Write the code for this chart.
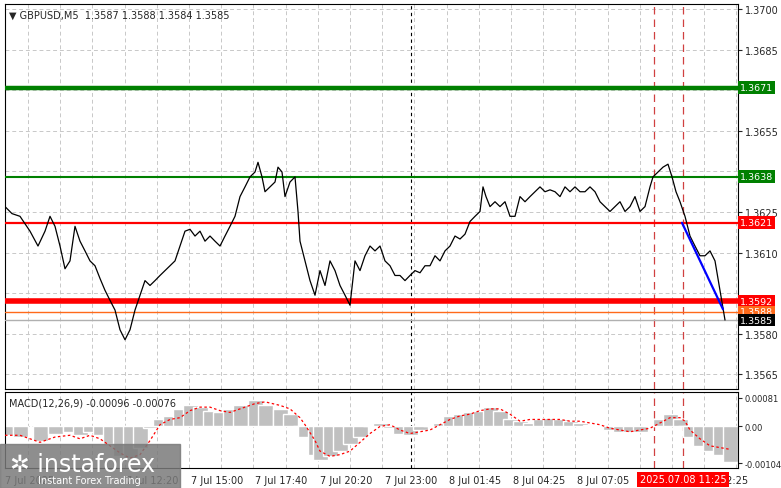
import numpy as np, pandas as pd, seaborn as sns, matplotlib
matplotlib.use("Agg")
import matplotlib.pyplot as plt
from matplotlib.patches import Rectangle

px_x = [5,12,20,30,38,45,50,55,60,65,70,75,80,85,90,95,100,105,110,115,120,125,130,135,140,145,150,155,160,165,170,175,180,185,190,195,200,205,210,215,220,225,230,235,240,245,250,255,258,262,265,270,275,278,282,285,290,295,298,300,305,310,315,320,325,330,335,340,345,350,355,360,365,370,375,380,385,390,395,400,405,410,415,420,425,430,435,440,445,450,455,460,465,470,475,480,483,486,490,495,500,505,510,515,520,525,530,535,540,545,550,555,560,565,570,575,580,585,590,595,600,605,610,615,620,625,630,635,640,645,650,653,658,663,668,672,676,680,685,690,695,700,705,710,715,720,725]
px_y = [205,212,215,230,245,230,215,225,245,268,260,225,240,250,260,265,278,290,300,310,330,340,330,310,295,280,285,280,275,270,265,260,245,230,228,235,230,240,235,240,245,235,225,215,195,185,175,170,160,175,190,185,180,165,170,195,180,175,210,240,260,280,295,270,285,260,270,285,295,305,260,270,255,245,250,245,260,265,275,275,280,275,270,272,265,265,255,260,250,245,235,238,233,220,215,210,185,195,205,200,205,200,215,215,195,200,195,190,185,190,188,190,195,185,190,185,190,190,185,190,200,205,210,205,200,210,205,195,210,205,185,175,170,165,162,175,190,200,215,235,245,255,255,250,260,290,320]
price = [round(1.3700 - (y - 5) * 0.0000365, 5) for y in px_y]

m_x = [5,20,40,55,70,80,90,100,110,120,130,140,150,160,170,180,190,200,210,220,230,240,255,265,280,290,300,305,315,320,330,340,350,360,370,380,390,400,410,420,430,440,450,460,470,480,490,500,510,520,530,540,550,560,570,580,590,600,610,620,630,640,650,660,670,680,685,690,700,710,720,730]
macd = [-25,-30,-40,-20,-15,-25,-15,-25,-50,-85,-90,-60,-5,20,30,50,60,55,45,40,50,60,75,60,50,35,0,-30,-80,-95,-85,-70,-50,-30,5,10,-5,-20,-25,-10,0,10,30,35,40,45,55,45,20,15,10,20,25,20,15,10,5,5,-10,-15,-15,-15,0,20,35,20,0,-30,-55,-70,-80,-100]
signal = [-25,-25,-45,-30,-25,-35,-25,-35,-55,-75,-90,-80,-40,5,20,25,45,55,55,45,40,50,65,70,60,50,25,5,-40,-70,-85,-80,-70,-45,-20,0,5,-10,-20,-15,-10,5,20,30,35,45,50,50,35,15,20,20,20,20,15,15,10,5,-5,-10,-15,-10,-5,10,25,25,15,-10,-35,-55,-60,-65]

levels = [1.3671, 1.3638, 1.3621, 1.3592, 1.3588, 1.3585]
level_colors = ["#008000", "#008000", "#ff0000", "#ff0000", "#ff6a1a", "#b0b0b0"]
level_widths = [3.2, 1.5, 1.6, 4.0, 1.0, 1.0]
label_bg = ["#008000", "#008000", "#ff0000", "#ff0000", "#ff6a1a", "#000000"]
grid_ticks = [1.3700,1.3685,1.3670,1.3655,1.3640,1.3625,1.3610,1.3595,1.3580,1.3565]
price_ticks = [1.3700,1.3685,1.3655,1.3625,1.3610,1.3580,1.3565]
xtick_pos = [30,152,217,281,346,411,475,539,603,735]
xtick_lbl = ["7 Jul 2025","7 Jul 12:20","7 Jul 15:00","7 Jul 17:40","7 Jul 20:20","7 Jul 23:00","8 Jul 01:45","8 Jul 04:25","8 Jul 07:05","12:25"]

sns.set_style("white")
plt.rcParams["font.family"] = ["DejaVu Sans"]
W, H = 781, 489
fig = plt.figure(figsize=(7.81, 4.89), dpi=100)
L, R = 5, 738
ax = fig.add_axes([L/W, 1-390/H, (R-L)/W, (390-5)/H])
ax2 = fig.add_axes([L/W, 1-469/H, (R-L)/W, (469-393)/H])
ylo = 1.3700 - (390-5)*0.0000365
for a in (ax, ax2):
    a.set_xlim(L, R)
    for s in a.spines.values():
        s.set_color("black"); s.set_linewidth(0.8)
    for gx in np.arange(28, R, 32.2):
        a.axvline(gx, color="#c8c8c8", ls=(0,(4,3)), lw=0.7, zorder=0)
ax.set_ylim(ylo, 1.3702)
for p in grid_ticks:
    ax.axhline(p, color="#c8c8c8", ls=(0,(4,3)), lw=0.7, zorder=0)

df = pd.DataFrame({"x": px_x, "p": price})
sns.lineplot(data=df, x="x", y="p", ax=ax, color="black", lw=0.9, zorder=5)
for lv, c, w in zip(levels, level_colors, level_widths):
    ax.axhline(lv, color=c, lw=w, zorder=3)
ax.plot([682, 723], [1.3621, 1.3589], color="#0000ff", lw=1.6, zorder=6)
for a in (ax, ax2):
    a.axvline(411, color="black", ls=(0,(3,3)), lw=0.8)
    a.axvline(654, color="#d04040", ls=(0,(6,4)), lw=0.9)
    a.axvline(683, color="#d04040", ls=(0,(6,4)), lw=0.9)

ax.set_xticks([]); ax.set_ylabel(""); ax.set_xlabel("")
ax.yaxis.tick_right()
ax.set_yticks(price_ticks)
ax.set_yticklabels([f"{p:.4f}" for p in price_ticks], fontsize=7)
ax.tick_params(axis="y", length=3, pad=2)
for lv, bg in zip(levels, label_bg):
    ax.text(1.003, lv, f"{lv:.4f}", transform=ax.get_yaxis_transform(), fontsize=6.8, color="white",
            va="center", ha="left", bbox=dict(boxstyle="square,pad=0.2", fc=bg, ec="none"), clip_on=False)
ax.text(0.005, 0.985, "▼ GBPUSD,M5  1.3587 1.3588 1.3584 1.3585", transform=ax.transAxes, fontsize=7, va="top")

ax2.bar(m_x, [v*1e-5 for v in macd], width=15, color="#c0c0c0", zorder=2)
mdf = pd.DataFrame({"x": m_x, "s": [v*1e-5 for v in signal]})
sns.lineplot(data=mdf, x="x", y="s", ax=ax2, color="#ff0000", lw=0.9, ls=(0,(2,2)), zorder=4)
ax2.set_ylim(-0.00118, 0.00098)
ax2.axhline(0, color="#c8c8c8", ls=(0,(4,3)), lw=0.7, zorder=0)
ax2.yaxis.tick_right()
ax2.set_yticks([0.00081, 0.0, -0.00104])
ax2.set_yticklabels(["0.00081", "0.00", "-0.00104"], fontsize=6)
ax2.set_ylabel(""); ax2.set_xlabel("")
ax2.set_xticks(xtick_pos)
ax2.set_xticklabels(xtick_lbl, fontsize=7)
ax2.tick_params(axis="both", length=3, pad=2)
ax2.text(0.005, 0.93, "MACD(12,26,9) -0.00096 -0.00076", transform=ax2.transAxes, fontsize=7, va="top")
ax2.text((683-L)/(R-L), -0.08, "2025.07.08 11:25", transform=ax2.transAxes, fontsize=7, color="white",
         ha="center", va="top", bbox=dict(boxstyle="square,pad=0.25", fc="#ff0000", ec="none"), clip_on=False)

fig.patches.append(Rectangle((0, 0), 180/W, 44/H, transform=fig.transFigure, color="#7a7a7a", alpha=0.85, zorder=10))
fig.text(10/W, 24/H, "✲ instaforex", fontsize=17, color="white", va="center", zorder=11)
fig.text(38/W, 8/H, "Instant Forex Trading", fontsize=7, color="white", va="center", zorder=11)
fig.savefig("out.png", dpi=100, facecolor="white")
